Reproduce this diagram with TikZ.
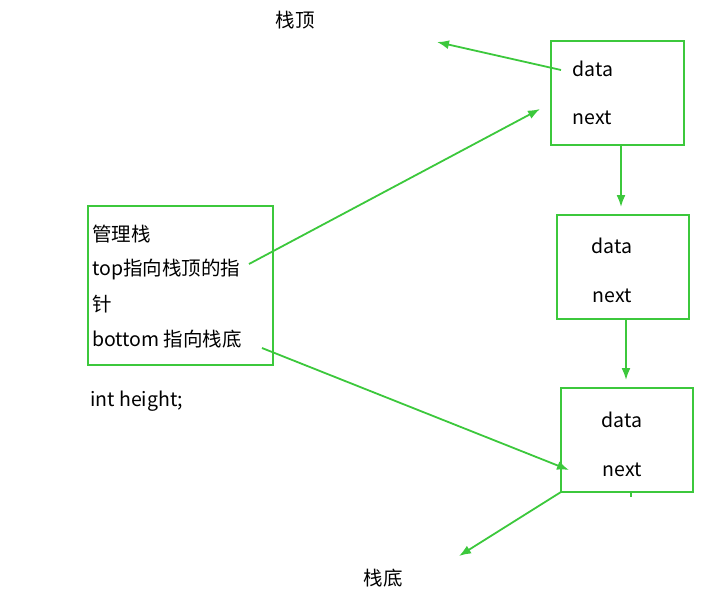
\documentclass[tikz,border=0pt]{standalone}
\usepackage{fontspec}
\setmainfont{Noto Sans CJK SC}
\usetikzlibrary{arrows.meta}
\definecolor{lg}{RGB}{60,200,60}
\begin{document}
\begin{tikzpicture}[x=1pt,y=-1pt,
  box/.style={draw=lg,line width=2pt},
  conn/.style={draw=lg,line width=1.8pt,-{Latex[length=12pt,width=9pt]}},
  plain/.style={draw=lg,line width=1.4pt},
  lbl/.style={font=\fontsize{19.5}{22}\selectfont,inner sep=0pt,anchor=west},
  clbl/.style={font=\fontsize{19.5}{22}\selectfont,inner sep=0pt}]
\useasboundingbox (0,0) rectangle (721,602);
% boxes
\draw[box] (551,41) rectangle (684,145);
\draw[box] (557,215) rectangle (689,319);
\draw[box] (561,388) rectangle (693,492);
\draw[box] (88,206) rectangle (273,365);
% texts
\node[clbl] (d1) at (593,69) {data};
\node[clbl] (n1) at (592,118) {next};
\node[clbl] (d2) at (612,246) {data};
\node[clbl] (n2) at (612,296) {next};
\node[clbl] (d3) at (622,420) {data};
\node[clbl] (n3) at (622,470) {next};
\node[lbl] (m1) at (92,234) {管理栈};
\node[lbl] (m2) at (92,270) {top指向栈顶的指};
\node[lbl] (m3) at (92,304) {针};
\node[lbl] (m4) at (92,339) {bottom 指向栈底};
\node[lbl] (ih) at (90,401) {int height;};
\node[clbl] (top) at (295,20) {栈顶};
\node[clbl] (bot) at (383,578) {栈底};
% coordinates
\coordinate (a1s) at (561,70);
\coordinate (a1e) at (437,42);
\coordinate (a2s) at (249,264);
\coordinate (a2e) at (540,109);
\coordinate (a3s) at (621,146);
\coordinate (a3e) at (621,207);
\coordinate (a4s) at (626,320);
\coordinate (a4e) at (626,380);
\coordinate (a5s) at (262,348);
\coordinate (a5e) at (569,470);
\coordinate (a6s) at (561,492);
\coordinate (a6e) at (459,556);
\coordinate (t1) at (631,492);
\coordinate (t2) at (631,497);
% connectors
\draw[conn] (a1s) -- (a1e);
\draw[conn] (a2s) -- (a2e);
\draw[conn] (a3s) -- (a3e);
\draw[conn] (a4s) -- (a4e);
\draw[conn] (a5s) -- (a5e);
\draw[conn] (a6s) -- (a6e);
\draw[plain,line width=1.2pt] (t1) -- (t2);
\end{tikzpicture}
\end{document}
